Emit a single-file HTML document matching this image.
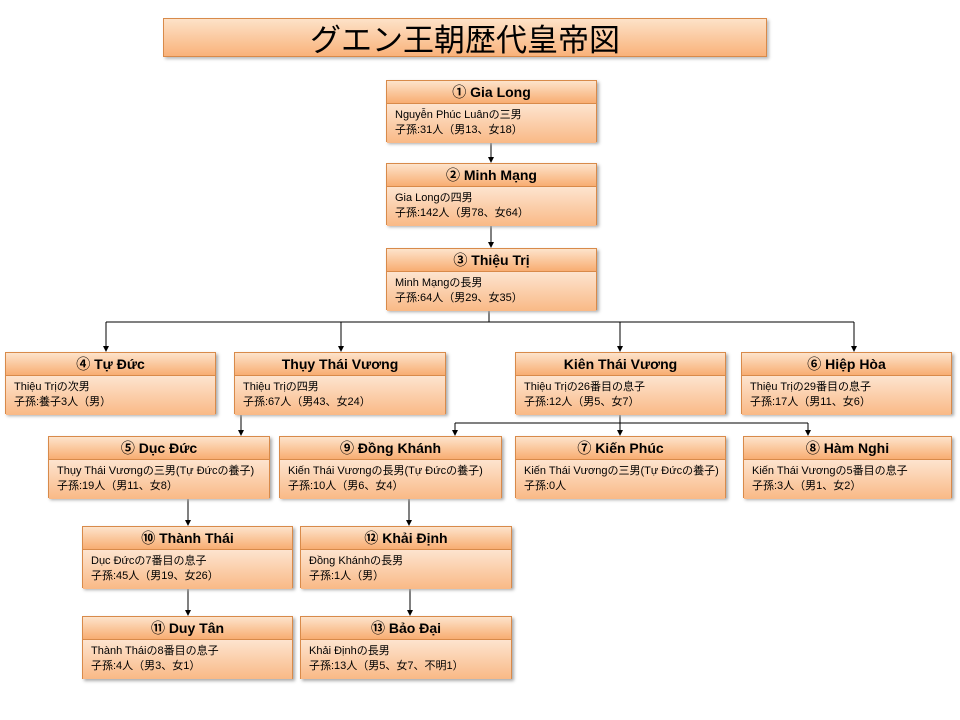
<!DOCTYPE html>
<html><head><meta charset="utf-8"><style>
body{margin:0;width:960px;height:720px;background:#fff;position:relative;overflow:hidden;font-family:"Liberation Sans","Noto Sans CJK JP",sans-serif}
.t{position:absolute;left:163px;top:18px;width:604px;height:39px;border:1px solid #d88a4a;background:linear-gradient(#fde2c8,#f9b27a);box-sizing:border-box;text-align:center;font-size:31px;line-height:37px;color:#000;font-family:"Noto Sans CJK JP",sans-serif;box-shadow:2px 2px 3px #bbb}
.b{position:absolute;height:62px;box-sizing:border-box;border:1px solid #d88a4a;background:#fbc9a0;box-shadow:2px 2px 3px #aaa}
.h{height:22px;border-bottom:1px solid #d88a4a;background:linear-gradient(#fde3cb,#f8ad72);text-align:center;font-weight:bold;font-size:14px;line-height:22px}
.d{background:linear-gradient(#fde4cf,#f9b986);height:39px;padding:4px 0 0 8px;box-sizing:border-box;font-size:11px;line-height:15px;font-family:"Liberation Sans","Noto Sans CJK JP",sans-serif;white-space:nowrap}
svg{position:absolute;left:0;top:0}
</style></head><body>
<div class="t">グエン王朝歴代皇帝図</div>
<svg width="960" height="720"><defs><marker id="a" markerWidth="6" markerHeight="6" refX="3" refY="5" orient="0"><path d="M0,0L6,0L3,6z" fill="#000"/></marker></defs>
<g stroke="#000" stroke-width="1" fill="none">
<line x1="491" y1="142" x2="491" y2="162" marker-end="url(#a)"/>
<line x1="491" y1="225" x2="491" y2="247" marker-end="url(#a)"/>
<line x1="489" y1="310" x2="489" y2="322"/>
<line x1="106" y1="322" x2="854" y2="322"/>
<line x1="106" y1="322" x2="106" y2="351" marker-end="url(#a)"/>
<line x1="341" y1="322" x2="341" y2="351" marker-end="url(#a)"/>
<line x1="620" y1="322" x2="620" y2="351" marker-end="url(#a)"/>
<line x1="854" y1="322" x2="854" y2="351" marker-end="url(#a)"/>
<line x1="620" y1="414" x2="620" y2="435" marker-end="url(#a)"/>
<line x1="455" y1="423" x2="808" y2="423"/>
<line x1="455" y1="423" x2="455" y2="435" marker-end="url(#a)"/>
<line x1="808" y1="423" x2="808" y2="435" marker-end="url(#a)"/>
<line x1="241" y1="414" x2="241" y2="435" marker-end="url(#a)"/>
<line x1="188" y1="498" x2="188" y2="525" marker-end="url(#a)"/>
<line x1="409" y1="498" x2="409" y2="525" marker-end="url(#a)"/>
<line x1="188" y1="588" x2="188" y2="615" marker-end="url(#a)"/>
<line x1="410" y1="588" x2="410" y2="615" marker-end="url(#a)"/>
</g></svg>
<div class="b" style="left:386px;top:80px;width:211px"><div class="h">① Gia Long</div><div class="d">Nguyễn Phúc Luânの三男<br>子孫:31人（男13、女18）</div></div>
<div class="b" style="left:386px;top:163px;width:211px"><div class="h">② Minh Mạng</div><div class="d">Gia Longの四男<br>子孫:142人（男78、女64）</div></div>
<div class="b" style="left:386px;top:248px;width:211px"><div class="h">③ Thiệu Trị</div><div class="d">Minh Mạngの長男<br>子孫:64人（男29、女35）</div></div>
<div class="b" style="left:5px;top:352px;width:211px"><div class="h">④ Tự Đức</div><div class="d">Thiệu Trịの次男<br>子孫:養子3人（男）</div></div>
<div class="b" style="left:234px;top:352px;width:212px"><div class="h">Thụy Thái Vương</div><div class="d">Thiệu Trịの四男<br>子孫:67人（男43、女24）</div></div>
<div class="b" style="left:515px;top:352px;width:211px"><div class="h">Kiên Thái Vương</div><div class="d">Thiệu Trịの26番目の息子<br>子孫:12人（男5、女7）</div></div>
<div class="b" style="left:741px;top:352px;width:211px"><div class="h">⑥ Hiệp Hòa</div><div class="d">Thiệu Trịの29番目の息子<br>子孫:17人（男11、女6）</div></div>
<div class="b" style="left:48px;top:436px;width:222px"><div class="h">⑤ Dục Đức</div><div class="d">Thụy Thái Vươngの三男(Tự Đứcの養子)<br>子孫:19人（男11、女8）</div></div>
<div class="b" style="left:279px;top:436px;width:223px"><div class="h">⑨ Đồng Khánh</div><div class="d">Kiến Thái Vươngの長男(Tự Đứcの養子)<br>子孫:10人（男6、女4）</div></div>
<div class="b" style="left:515px;top:436px;width:211px"><div class="h">⑦ Kiến Phúc</div><div class="d">Kiến Thái Vươngの三男(Tự Đứcの養子)<br>子孫:0人</div></div>
<div class="b" style="left:743px;top:436px;width:209px"><div class="h">⑧ Hàm Nghi</div><div class="d">Kiến Thái Vươngの5番目の息子<br>子孫:3人（男1、女2）</div></div>
<div class="b" style="left:82px;top:526px;width:211px"><div class="h">⑩ Thành Thái</div><div class="d">Dục Đứcの7番目の息子<br>子孫:45人（男19、女26）</div></div>
<div class="b" style="left:300px;top:526px;width:212px"><div class="h">⑫ Khải Định</div><div class="d">Đồng Khánhの長男<br>子孫:1人（男）</div></div>
<div class="b" style="left:82px;top:616px;width:211px;height:63px"><div class="h">⑪ Duy Tân</div><div class="d">Thành Tháiの8番目の息子<br>子孫:4人（男3、女1）</div></div>
<div class="b" style="left:300px;top:616px;width:212px;height:63px"><div class="h">⑬ Bảo Đại</div><div class="d">Khải Địnhの長男<br>子孫:13人（男5、女7、不明1）</div></div>
</body></html>
